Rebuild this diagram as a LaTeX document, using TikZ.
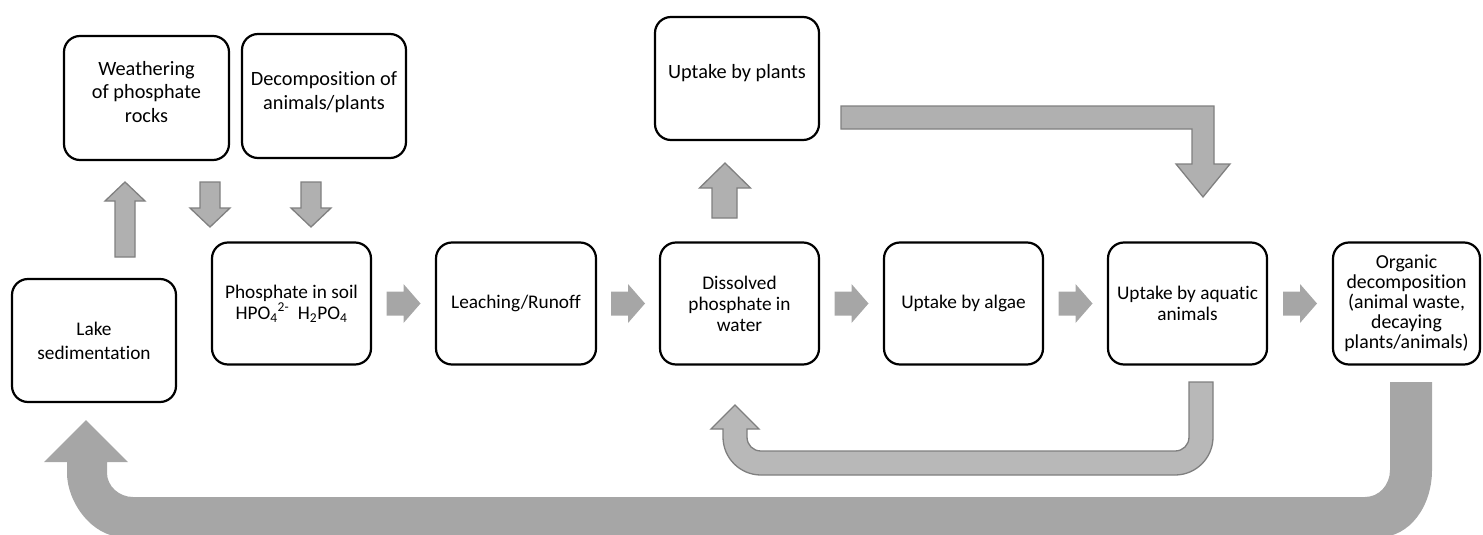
\documentclass[tikz,border=0pt]{standalone}
\usepackage{fontspec}
\setmainfont{Carlito}[Ligatures=NoCommon]
\usetikzlibrary{calc}
\definecolor{rowgray}{HTML}{A6A6A6}
\definecolor{arrfill}{HTML}{B0B0B0}
\definecolor{arredge}{HTML}{808080}
\definecolor{retfill}{HTML}{B8B8B8}
\definecolor{retedge}{HTML}{7F7F7F}
\newcommand\fstop{\fontsize{20.3}{23.5}\selectfont}
\newcommand\fsrow{\fontsize{19.3}{21}\selectfont}
\newcommand\fslake{\fontsize{19.3}{24}\selectfont}
\begin{document}
\begin{tikzpicture}[x=1pt,y=-1pt,
  box/.style={draw=black, line width=2.2pt, rounded corners=16pt, fill=white,
    inner sep=0pt, align=center, minimum width=#1, minimum height=122pt},
  box/.default=159pt,
  txt/.style={align=center, inner sep=0pt},
  rowarrow/.style={fill=rowgray},
  blockarrow/.style={fill=arrfill, draw=arredge, line width=1.3pt, line join=miter},
  retarrow/.style={fill=retfill, draw=retedge, line width=1.3pt},
  bigarrow/.style={fill=rowgray},
  rowarr/.pic={\fill[rowarrow] (-17,-12) -- (0,-12) -- (0,-19.5) -- (17,0) -- (0,19.5) -- (0,12) -- (-17,12) -- cycle;}
]
\useasboundingbox (0,0) rectangle (1483,535);

% top boxes
\node[box=165pt, minimum height=124pt] (weath) at (146.5,98) {};
\node[txt, font=\fstop] (weathT) at (146.5,92) {Weathering\\of phosphate\\rocks};
\node[box=164pt, minimum height=124pt] (decomp) at (324,96) {};
\node[txt, font=\fstop] (decompT) at (324,92) {Decomposition of\\animals/plants};
\node[box=164pt, minimum height=123pt] (plants) at (737,78.5) {};
\node[txt, font=\fstop] (plantsT) at (737,73.5) {Uptake by plants};

% lake
\node[box=164pt, minimum height=123pt, font=\fslake] (lake) at (94,340.5) {Lake\\sedimentation};

% bottom row
\node[box, font=\fsrow] (soil) at (291.5,303.5) {Phosphate in soil\\HPO\textsubscript{4}\textsuperscript{2-}\ \ H\textsubscript{2}PO\textsubscript{4}};
\node[box=160pt, font=\fsrow] (leach) at (516,303.5) {Leaching/Runoff};
\node[box, font=\fsrow] (diss) at (739.5,303.5) {Dissolved\\phosphate in\\water};
\node[box, font=\fsrow] (algae) at (963.5,303.5) {Uptake by algae};
\node[box, font=\fsrow] (aqua) at (1187.5,303.5) {Uptake by aquatic\\animals};
\node[box=147pt, font=\fontsize{19.8}{20}\selectfont] (org) at (1406.5,303.5) {Organic\\decomposition\\(animal waste,\\decaying\\plants/animals)};

% row arrows
\pic at ($(soil.east)!0.5!(leach.west)$) {rowarr};
\pic at ($(leach.east)!0.5!(diss.west)$) {rowarr};
\pic at ($(diss.east)!0.5!(algae.west)$) {rowarr};
\pic at ($(algae.east)!0.5!(aqua.west)$) {rowarr};
\pic at ($(aqua.east)!0.5!(org.west)$) {rowarr};

% lake -> weathering
\draw[blockarrow] (115,257) -- (115,201) -- (105,201) -- (125,182) -- (145,201) -- (135,201) -- (135,257) -- cycle;
% weathering -> soil, decomposition -> soil
\draw[blockarrow] (200,182) -- (220,182) -- (220,208) -- (230,208) -- (210,227) -- (190,208) -- (200,208) -- cycle;
\draw[blockarrow] (301,182) -- (321,182) -- (321,208) -- (331,208) -- (311,227) -- (291,208) -- (301,208) -- cycle;

% dissolved -> plants
\draw[blockarrow] (712,218) -- (712,188) -- (699.5,188) -- (725,163) -- (750.5,188) -- (737,188) -- (737,218) -- cycle;
% plants -> aquatic
\draw[blockarrow] (841,106) -- (1214,106) -- (1214,164) -- (1230,164) -- (1203,197) -- (1176,164) -- (1192,164) -- (1192,129) -- (841,129) -- cycle;

% aquatic -> dissolved (U-turn)
\draw[retarrow] (1189,382) -- (1213,382) -- (1213,437)
  .. controls (1213,458) and (1196,475) .. (1175,475) -- (761,475)
  .. controls (740,475) and (723,458) .. (723,437) -- (723,429) -- (711,429) -- (735,405)
  -- (759,429) -- (747,429) -- (747,437)
  .. controls (747,445) and (753,451) .. (761,451) -- (1175,451)
  .. controls (1183,451) and (1189,445) .. (1189,437) -- cycle;

% organic -> lake (big U-turn)
\fill[bigarrow] (1390,382) -- (1432,382) -- (1432,470)
  .. controls (1432,507) and (1409,537) .. (1380,537) -- (123,537)
  .. controls (92,537) and (67,502) .. (67,473) -- (67,462) -- (44,462) -- (86,420)
  -- (128,462) -- (107,462) -- (107,473)
  .. controls (107,486) and (119,497) .. (133,497) -- (1365,497)
  .. controls (1379,497) and (1390,485) .. (1390,470) -- cycle;
\end{tikzpicture}
\end{document}
